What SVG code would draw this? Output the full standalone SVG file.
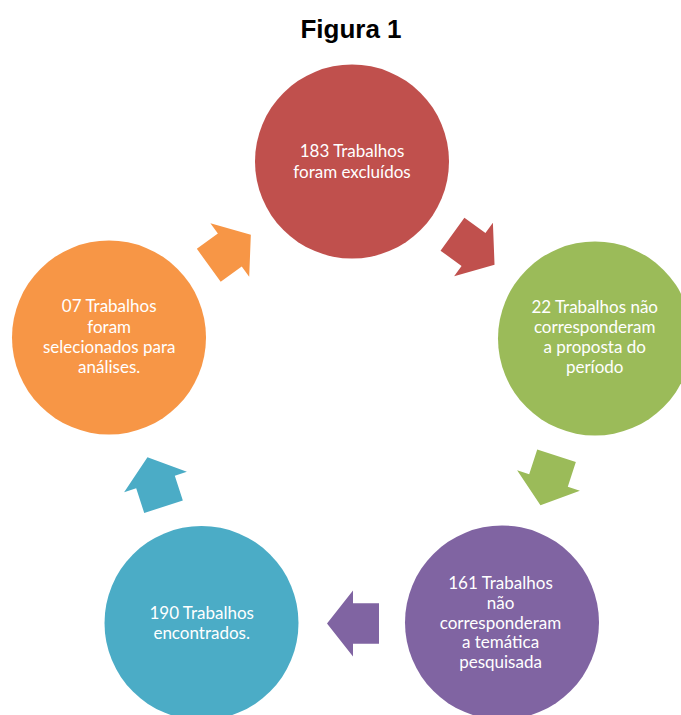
<svg xmlns="http://www.w3.org/2000/svg" xmlns:xlink="http://www.w3.org/1999/xlink" width="681" height="715" viewBox="0 0 681 715">
  <style>
    .title { font-family: "Liberation Sans", Arial, sans-serif; font-weight: bold; font-size: 26px; fill: #000000; }
    .label { font-family: Lato, "Liberation Sans", sans-serif; font-size: 17px; fill: #FFFFFF; text-anchor: middle; }
    .red { fill: #C0504D; }
    .green { fill: #9BBB59; }
    .purple { fill: #8064A2; }
    .teal { fill: #4BACC6; }
    .orange { fill: #F79646; }
  </style>
  <defs>
    <!-- block arrow pointing along +x, centred on the origin -->
    <polygon id="arrow" points="-26,-20.3 0,-20.3 0,-33 26,0 0,33 0,20.3 -26,20.3"/>
  </defs>

  <rect width="681" height="715" fill="#FFFFFF"/>

  <text class="title" x="351" y="37.5" text-anchor="middle">Figura 1</text>

  <!-- cycle arrows between the circles -->
  <g id="connectors">
    <use xlink:href="#arrow" class="red" transform="translate(473.5,249.5) rotate(36)"/>
    <use xlink:href="#arrow" class="green" transform="translate(548.5,480.5) rotate(108)"/>
    <use xlink:href="#arrow" class="purple" transform="translate(353,623.5) rotate(180)"/>
    <use xlink:href="#arrow" class="teal" transform="translate(155.5,482) rotate(252)"/>
    <use xlink:href="#arrow" class="orange" transform="translate(229.8,250) rotate(324)"/>
  </g>

  <g id="node-excluidos">
    <circle class="red" cx="352" cy="161.5" r="97"/>
    <text class="label" x="352" y="157.3">183 Trabalhos</text>
    <text class="label" x="352" y="178">foram excluídos</text>
  </g>

  <g id="node-periodo">
    <circle class="green" cx="595" cy="338.5" r="97"/>
    <text class="label" x="594.7" y="313.3">22 Trabalhos não</text>
    <text class="label" x="594.7" y="333.3">corresponderam</text>
    <text class="label" x="594.7" y="353.3">a proposta do</text>
    <text class="label" x="594.7" y="373.3">período</text>
  </g>

  <g id="node-tematica">
    <circle class="purple" cx="502" cy="622.5" r="97"/>
    <text class="label" x="500.5" y="589">161 Trabalhos</text>
    <text class="label" x="500.5" y="608.7">não</text>
    <text class="label" x="500.5" y="628.5">corresponderam</text>
    <text class="label" x="500.5" y="648.3">a temática</text>
    <text class="label" x="500.5" y="668">pesquisada</text>
  </g>

  <g id="node-encontrados">
    <circle class="teal" cx="201.5" cy="623" r="97"/>
    <text class="label" x="201.7" y="619.3">190 Trabalhos</text>
    <text class="label" x="201.7" y="639">encontrados.</text>
  </g>

  <g id="node-selecionados">
    <circle class="orange" cx="109" cy="337.5" r="97"/>
    <text class="label" x="109.2" y="312.3">07 Trabalhos</text>
    <text class="label" x="109.2" y="332.5">foram</text>
    <text class="label" x="109.2" y="353.3">selecionados para</text>
    <text class="label" x="109.2" y="373.3">análises.</text>
  </g>
</svg>
